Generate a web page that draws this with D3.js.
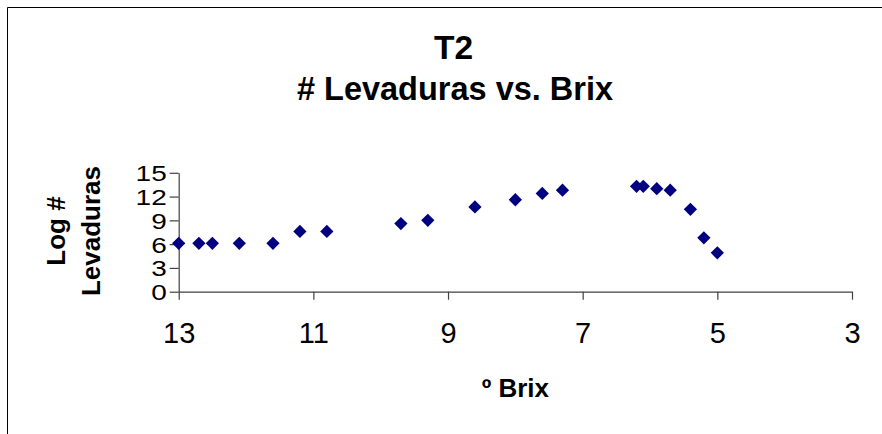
<!DOCTYPE html>
<html>
<head>
<meta charset="utf-8">
<script src="https://cdn.jsdelivr.net/npm/d3@7"></script>
<style>
  html, body { margin: 0; padding: 0; background: #fff; }
  svg { display: block; font-family: "Liberation Sans", Arial, sans-serif; }
</style>
</head>
<body>
<svg id="chart" width="882" height="434"></svg>
<script>
const titleLines = ["T2", "# Levaduras vs. Brix"];
const xTitle = "º Brix";
const yTitleLines = ["Log #", "Levaduras"];
const brix = [13.0, 12.7, 12.5, 12.1, 11.6, 11.2, 10.8, 9.7, 9.3, 8.6, 8.0, 7.6, 7.3, 6.2, 6.1, 5.9, 5.7, 5.4, 5.2, 5.0];
const logLevaduras = [6.1, 6.1, 6.1, 6.1, 6.1, 7.6, 7.6, 8.6, 9.0, 10.7, 11.6, 12.4, 12.8, 13.3, 13.3, 13.0, 12.8, 10.4, 6.8, 4.9];
const xTicks = [13, 11, 9, 7, 5, 3];
const yTicks = [0, 3, 6, 9, 12, 15];

const svg = d3.select("#chart");

// chart area border (clipped on right/bottom like the reference)
svg.append("path")
  .attr("d", "M7.5,440 L7.5,7.5 L890,7.5")
  .attr("fill", "none").attr("stroke", "#000").attr("stroke-width", 1);

const x = d3.scaleLinear().domain([13, 3]).range([178.7, 852]);
const y = d3.scaleLinear().domain([0, 15]).range([291.7, 172.8]);

// title
const title = svg.append("text")
  .attr("text-anchor", "middle")
  .attr("font-weight", "bold")
  .attr("fill", "#000");
title.append("tspan").attr("x", 453.5).attr("y", 58.5).attr("font-size", 33.5).text(titleLines[0]);
title.append("tspan").attr("x", 455).attr("y", 100).attr("font-size", 32.5).text(titleLines[1]);

// axes
const xAxis = d3.axisBottom(x).tickValues(xTicks).tickSize(8).tickSizeOuter(0).tickPadding(23).tickFormat(d3.format("d"));
const gx = svg.append("g").attr("transform", `translate(0,${y(0)})`).call(xAxis);
gx.select(".domain").attr("stroke", "#404040").attr("stroke-width", 1.2);
gx.selectAll(".tick line").attr("stroke", "#404040").attr("stroke-width", 1.2);
gx.selectAll(".tick text").attr("font-size", 29).attr("fill", "#000")
  .attr("font-family", "'Liberation Sans', Arial, sans-serif");

const yAxis = d3.axisLeft(y).tickValues(yTicks).tickSize(9).tickSizeOuter(0).tickPadding(3).tickFormat(d3.format("d"));
const gy = svg.append("g").attr("transform", `translate(${x(13)},0)`).call(yAxis);
gy.select(".domain").attr("stroke", "#404040").attr("stroke-width", 1.2);
gy.selectAll(".tick line").attr("stroke", "#404040").attr("stroke-width", 1.2);
gy.selectAll(".tick text").attr("font-size", 28).attr("fill", "#000")
  .attr("font-family", "'Liberation Sans', Arial, sans-serif")
  .attr("dy", "0.36em")
  .attr("transform", "scale(1,0.8)");

// axis titles
svg.append("text")
  .attr("x", x(8)).attr("y", 396.5)
  .attr("text-anchor", "middle")
  .attr("font-weight", "bold").attr("font-size", 26)
  .text(xTitle);

const yt = svg.append("text")
  .attr("transform", "translate(0,231) rotate(-90)")
  .attr("text-anchor", "middle")
  .attr("font-weight", "bold").attr("font-size", 26);
yt.append("tspan").attr("x", 0).attr("y", 65).text(yTitleLines[0]);
yt.append("tspan").attr("x", 0).attr("y", 99.5).text(yTitleLines[1]);

// markers
const sym = d3.symbol().type(d3.symbolSquare).size(88);
svg.append("g").selectAll("path")
  .data(brix.map((b, i) => [b, logLevaduras[i]]))
  .join("path")
  .attr("d", sym)
  .attr("transform", d => `translate(${x(d[0])},${y(d[1])}) rotate(45)`)
  .attr("fill", "#000080");
</script>
</body>
</html>
